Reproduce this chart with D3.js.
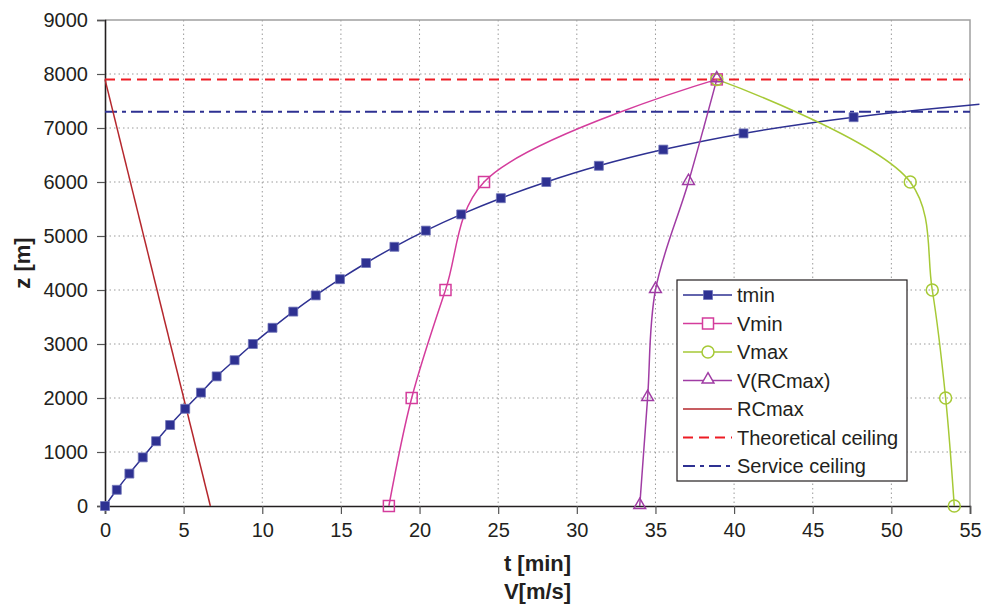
<!DOCTYPE html>
<html>
<head>
<meta charset="utf-8">
<script src="https://cdn.jsdelivr.net/npm/d3@7"></script>
<style>
  body { margin: 0; background: #fff; }
  svg text { font-family: "Liberation Sans", Arial, sans-serif; fill: #231f20; }
</style>
</head>
<body>
<div id="chart"></div>
<script>
// ---------------- data ----------------
const tminT = [0, 0.75, 1.55, 2.4, 3.25, 4.14, 5.1, 6.1, 7.1, 8.24, 9.4, 10.65, 11.97, 13.4, 14.94,
  16.6, 18.4, 20.4, 22.65, 25.17, 28.06, 31.4, 35.5, 40.6, 47.6];
const tminZ = [0, 300, 600, 900, 1200, 1500, 1800, 2100, 2400, 2700, 3000, 3300, 3600, 3900, 4200,
  4500, 4800, 5100, 5400, 5700, 6000, 6300, 6600, 6900, 7200];
const tminTail = [55.6, 7440]; // line runs off the right edge, no marker

const vZ = [0, 2000, 4000, 6000, 7900];
const vminV = [18.05, 19.5, 21.65, 24.1, 38.9];
const vmaxV = [54.0, 53.45, 52.6, 51.2, 38.9];
const vrcV = [34.0, 34.5, 35.0, 37.1, 38.9];

const rcmaxV = [6.7, 0];
const rcmaxZ = [0, 7900];

const theoreticalCeiling = 7900;
const serviceCeiling = 7300;

const xTicks = d3.range(0, 56, 5);
const yTicks = d3.range(0, 9001, 1000);

const legendNames = ["tmin", "Vmin", "Vmax", "V(RCmax)", "RCmax", "Theoretical ceiling", "Service ceiling"];

// ---------------- layout ----------------
const width = 982, height = 606;
const margin = {top: 20, right: 12, bottom: 100, left: 105};
const plotW = 970 - margin.left;
const plotH = 506 - margin.top;

const colors = {
  tmin: "#2e3192",
  vmin: "#d43c9c",
  vmax: "#a6c936",
  vrc: "#a03ca4",
  rcmax: "#b5272d",
  theo: "#ed1c24",
  serv: "#2e3192"
};

const svg = d3.select("#chart").append("svg")
  .attr("width", width)
  .attr("height", height);

const g = svg.append("g")
  .attr("transform", `translate(${margin.left},${margin.top})`);

const x = d3.scaleLinear().domain([0, 55]).range([0, plotW]);
const y = d3.scaleLinear().domain([0, 9000]).range([plotH, 0]);

// grid
g.append("g").selectAll("line")
  .data(xTicks.filter(d => d > 0 && d < 55))
  .join("line")
  .attr("x1", d => x(d)).attr("x2", d => x(d))
  .attr("y1", 0).attr("y2", plotH)
  .attr("stroke", "#9a9a9a").attr("stroke-width", 1)
  .attr("stroke-dasharray", "1.5,3");
g.append("g").selectAll("line")
  .data(yTicks.filter(d => d > 0 && d < 9000))
  .join("line")
  .attr("x1", 0).attr("x2", plotW)
  .attr("y1", d => y(d)).attr("y2", d => y(d))
  .attr("stroke", "#9a9a9a").attr("stroke-width", 1)
  .attr("stroke-dasharray", "1.5,3");

// top and right border
g.append("path")
  .attr("d", `M0,${y(9000)}H${x(55)}V${y(0)}`)
  .attr("fill", "none").attr("stroke", "#a0a0a0").attr("stroke-width", 1.5);

// axes
const xAxis = g.append("g")
  .attr("transform", `translate(0,${plotH})`)
  .call(d3.axisBottom(x).tickValues(xTicks).tickFormat(d3.format("d")).tickSize(8).tickPadding(9));
const yAxis = g.append("g")
  .call(d3.axisLeft(y).tickValues(yTicks).tickFormat(d3.format("d")).tickSize(8).tickPadding(9));
[xAxis, yAxis].forEach(a => {
  a.attr("font-size", null).attr("font-family", null);
  a.select(".domain").attr("stroke", "#231f20").attr("stroke-width", 1.6);
  a.selectAll(".tick line").attr("stroke", "#555").attr("stroke-width", 1.2);
  a.selectAll("text").style("font-size", "20px").attr("fill", "#231f20");
});

// ceilings
g.append("line")
  .attr("x1", 0).attr("x2", plotW)
  .attr("y1", y(theoreticalCeiling)).attr("y2", y(theoreticalCeiling))
  .attr("stroke", colors.theo).attr("stroke-width", 2)
  .attr("stroke-dasharray", "10,6");
g.append("line")
  .attr("x1", 0).attr("x2", plotW)
  .attr("y1", y(serviceCeiling)).attr("y2", y(serviceCeiling))
  .attr("stroke", colors.serv).attr("stroke-width", 2)
  .attr("stroke-dasharray", "12,5,4,5");

// lines
const smooth = d3.line().curve(d3.curveCatmullRom.alpha(0.5))
  .x(d => x(d[0])).y(d => y(d[1]));
const straight = d3.line().x(d => x(d[0])).y(d => y(d[1]));

const tminPts = tminT.map((t, i) => [t, tminZ[i]]);
const vminPts = vminV.map((v, i) => [v, vZ[i]]);
const vmaxPts = vmaxV.map((v, i) => [v, vZ[i]]);
const vrcPts = vrcV.map((v, i) => [v, vZ[i]]);
const rcPts = rcmaxV.map((v, i) => [v, rcmaxZ[i]]);

g.append("path").datum(rcPts).attr("d", straight)
  .attr("fill", "none").attr("stroke", colors.rcmax).attr("stroke-width", 1.5);
g.append("path").datum(tminPts.concat([tminTail])).attr("d", smooth)
  .attr("fill", "none").attr("stroke", colors.tmin).attr("stroke-width", 1.5);
g.append("path").datum(vminPts).attr("d", smooth)
  .attr("fill", "none").attr("stroke", colors.vmin).attr("stroke-width", 1.5);
g.append("path").datum(vmaxPts).attr("d", smooth)
  .attr("fill", "none").attr("stroke", colors.vmax).attr("stroke-width", 1.5);
g.append("path").datum(vrcPts).attr("d", smooth)
  .attr("fill", "none").attr("stroke", colors.vrc).attr("stroke-width", 1.5);

// markers
const sq = d3.symbol().type(d3.symbolSquare);
const tri = d3.symbol().type(d3.symbolTriangle).size(60);

g.append("g").selectAll("path").data(tminPts).join("path")
  .attr("transform", d => `translate(${x(d[0])},${y(d[1])})`)
  .attr("d", sq.size(80)())
  .attr("fill", colors.tmin).attr("stroke", "#6f72b8").attr("stroke-width", 0.8);
g.append("g").selectAll("rect").data(vminPts).join("rect")
  .attr("x", d => x(d[0]) - 5.5).attr("y", d => y(d[1]) - 5.5)
  .attr("width", 11).attr("height", 11)
  .attr("fill", "none").attr("stroke", colors.vmin).attr("stroke-width", 1.5);
g.append("g").selectAll("circle").data(vmaxPts).join("circle")
  .attr("cx", d => x(d[0])).attr("cy", d => y(d[1])).attr("r", 6)
  .attr("fill", "none").attr("stroke", colors.vmax).attr("stroke-width", 1.5);
g.append("g").selectAll("path").data(vrcPts).join("path")
  .attr("transform", d => `translate(${x(d[0])},${y(d[1]) - 1})`)
  .attr("d", tri())
  .attr("fill", "none").attr("stroke", colors.vrc).attr("stroke-width", 1.5);

// axis titles
svg.append("text")
  .attr("transform", `translate(30,${margin.top + plotH / 2}) rotate(-90)`)
  .attr("text-anchor", "middle")
  .style("font-size", "22px").style("font-weight", "bold")
  .text("z [m]");
svg.append("text")
  .attr("x", margin.left + plotW / 2).attr("y", 571)
  .attr("text-anchor", "middle")
  .style("font-size", "22px").style("font-weight", "bold")
  .text("t [min]");
svg.append("text")
  .attr("x", margin.left + plotW / 2).attr("y", 599)
  .attr("text-anchor", "middle")
  .style("font-size", "22px").style("font-weight", "bold")
  .text("V[m/s]");

// legend
const legend = svg.append("g").attr("transform", "translate(677,280)");
legend.append("rect")
  .attr("width", 230).attr("height", 201)
  .attr("fill", "#fff").attr("stroke", "#231f20").attr("stroke-width", 1.2);

const legendStyles = [
  {c: colors.tmin, dash: null, m: "fsq"},
  {c: colors.vmin, dash: null, m: "sq"},
  {c: colors.vmax, dash: null, m: "circ"},
  {c: colors.vrc, dash: null, m: "tri"},
  {c: colors.rcmax, dash: null, m: null},
  {c: colors.theo, dash: "10,6", m: null},
  {c: colors.serv, dash: "12,5,4,5", m: null}
];

const items = legend.selectAll("g.item").data(legendNames).join("g")
  .attr("class", "item")
  .attr("transform", (d, i) => `translate(0,${15 + i * 28.5})`);
items.append("line")
  .attr("x1", 6).attr("x2", 55).attr("y1", 0).attr("y2", 0)
  .attr("stroke", (d, i) => legendStyles[i].c)
  .attr("stroke-width", (d, i) => legendStyles[i].dash ? 2 : 1.5)
  .attr("stroke-dasharray", (d, i) => legendStyles[i].dash);
items.each(function(d, i) {
  const s = legendStyles[i];
  const it = d3.select(this);
  if (s.m === "fsq") {
    it.append("path").attr("transform", "translate(31,0)").attr("d", sq.size(80)())
      .attr("fill", s.c).attr("stroke", "#6f72b8").attr("stroke-width", 0.8);
  } else if (s.m === "sq") {
    it.append("rect").attr("x", 25.5).attr("y", -5.5).attr("width", 11).attr("height", 11)
      .attr("fill", "#fff").attr("stroke", s.c).attr("stroke-width", 1.5);
  } else if (s.m === "circ") {
    it.append("circle").attr("cx", 31).attr("cy", 0).attr("r", 6)
      .attr("fill", "#fff").attr("stroke", s.c).attr("stroke-width", 1.5);
  } else if (s.m === "tri") {
    it.append("path").attr("transform", "translate(31,-1)").attr("d", tri())
      .attr("fill", "#fff").attr("stroke", s.c).attr("stroke-width", 1.5);
  }
});
items.append("text")
  .attr("x", 60).attr("y", 0).attr("dy", "0.36em")
  .style("font-size", "20px")
  .text(d => d);
</script>
</body>
</html>
